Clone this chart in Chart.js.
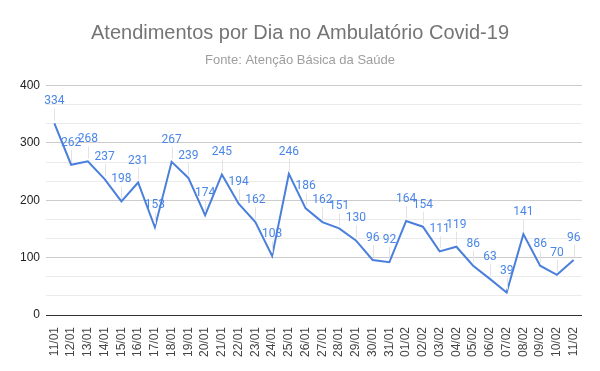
<!DOCTYPE html>
<html>
<head>
<meta charset="utf-8">
<script src="https://cdn.jsdelivr.net/npm/chart.js@4/dist/chart.umd.min.js"></script>
<style>
  html, body { margin: 0; padding: 0; background: #fff; }
  #wrap { width: 600px; height: 371px; }
</style>
</head>
<body>
<div id="wrap"><canvas id="chart"></canvas></div>
<script>
// ================================
// Data
// ================================

const dias = [
    "11/01", "12/01", "13/01", "14/01", "15/01", "16/01", "17/01", "18/01",
    "19/01", "20/01", "21/01", "22/01", "23/01", "24/01", "25/01", "26/01",
    "27/01", "28/01", "29/01", "30/01", "31/01", "01/02", "02/02", "03/02",
    "04/02", "05/02", "06/02", "07/02", "08/02", "09/02", "10/02", "11/02"
];

const atendimentos = [
    334, 262, 268, 237, 198, 231, 153, 267,
    239, 174, 245, 194, 162, 103, 246, 186,
    162, 151, 130, 96, 92, 164, 154, 111,
    119, 86, 63, 39, 141, 86, 70, 96
];

const yTicks = [0, 100, 200, 300, 400];

// ================================
// Data labels (value above point + leader line)
// ================================

const pointLabels = {
    id: "pointLabels",
    afterDatasetsDraw(chart) {
        const ctx = chart.ctx;
        const meta = chart.getDatasetMeta(0);
        ctx.save();
        ctx.font = "12px Roboto";
        ctx.textAlign = "center";
        ctx.textBaseline = "middle";
        meta.data.forEach((pt, i) => {
            const ly = pt.y - 22;
            ctx.strokeStyle = "#e3e3e3";
            ctx.lineWidth = 1;
            ctx.beginPath();
            ctx.moveTo(Math.round(pt.x) + 0.5, ly + 7);
            ctx.lineTo(Math.round(pt.x) + 0.5, pt.y - 3);
            ctx.stroke();
            ctx.fillStyle = "#4a86e8";
            ctx.fillText(atendimentos[i], pt.x, ly);
        });
        ctx.restore();
    }
};

// ================================
// Chart
// ================================

new Chart(document.getElementById("chart"), {
    type: "line",
    data: {
        labels: dias,
        datasets: [{
            label: "Atendimentos",
            data: atendimentos,
            borderColor: "#4a7fdb",
            borderWidth: 2,
            pointRadius: 0,
            tension: 0,
            fill: false
        }]
    },
    options: {
        responsive: true,
        maintainAspectRatio: false,
        animation: false,
        layout: { padding: { left: 9, right: 9, top: 0, bottom: 0 } },
        plugins: {
            legend: { display: false },
            tooltip: { enabled: false },
            title: {
                display: true,
                text: "Atendimentos por Dia no Ambulatório Covid-19",
                color: "#757575",
                font: { family: "Liberation Sans", size: 20, weight: "normal" },
                padding: { top: 21, bottom: 8 }
            },
            subtitle: {
                display: true,
                text: "Fonte: Atenção Básica da Saúde",
                color: "#9e9e9e",
                font: { family: "Liberation Sans", size: 13 },
                padding: { top: 0, bottom: 17 }
            }
        },
        scales: {
            x: {
                offset: true,
                grid: { display: false },
                border: { display: false },
                ticks: {
                    autoSkip: false,
                    minRotation: 90,
                    maxRotation: 90,
                    color: "#444",
                    font: { family: "Liberation Sans", size: 12 },
                    padding: 4
                },
                afterFit(scale) { scale.height = 56; }
            },
            y: {
                min: 0,
                max: 400,
                border: { display: false },
                ticks: {
                    stepSize: 100 / 3,
                    color: "#222",
                    font: { family: "Liberation Sans", size: 12 },
                    padding: 6,
                    callback: v => {
                        const r = Math.round(v);
                        return yTicks.includes(r) && Math.abs(v - r) < 0.01 ? r : "";
                    }
                },
                grid: {
                    drawTicks: false,
                    color: c => {
                        const v = c.tick.value;
                        if (Math.abs(v) < 0.01) return "#333";
                        return Math.abs(v - Math.round(v / 100) * 100) < 0.01 ? "#cccccc" : "#ebebeb";
                    }
                },
                afterFit(scale) { scale.width = 37; }
            },
            // empty right spacer so the title stays centred on the page
            spacer: {
                position: "right",
                grid: { display: false },
                border: { display: false },
                ticks: { display: false },
                afterFit(scale) { scale.width = 9; }
            }
        }
    },
    plugins: [pointLabels]
});
</script>
</body>
</html>
